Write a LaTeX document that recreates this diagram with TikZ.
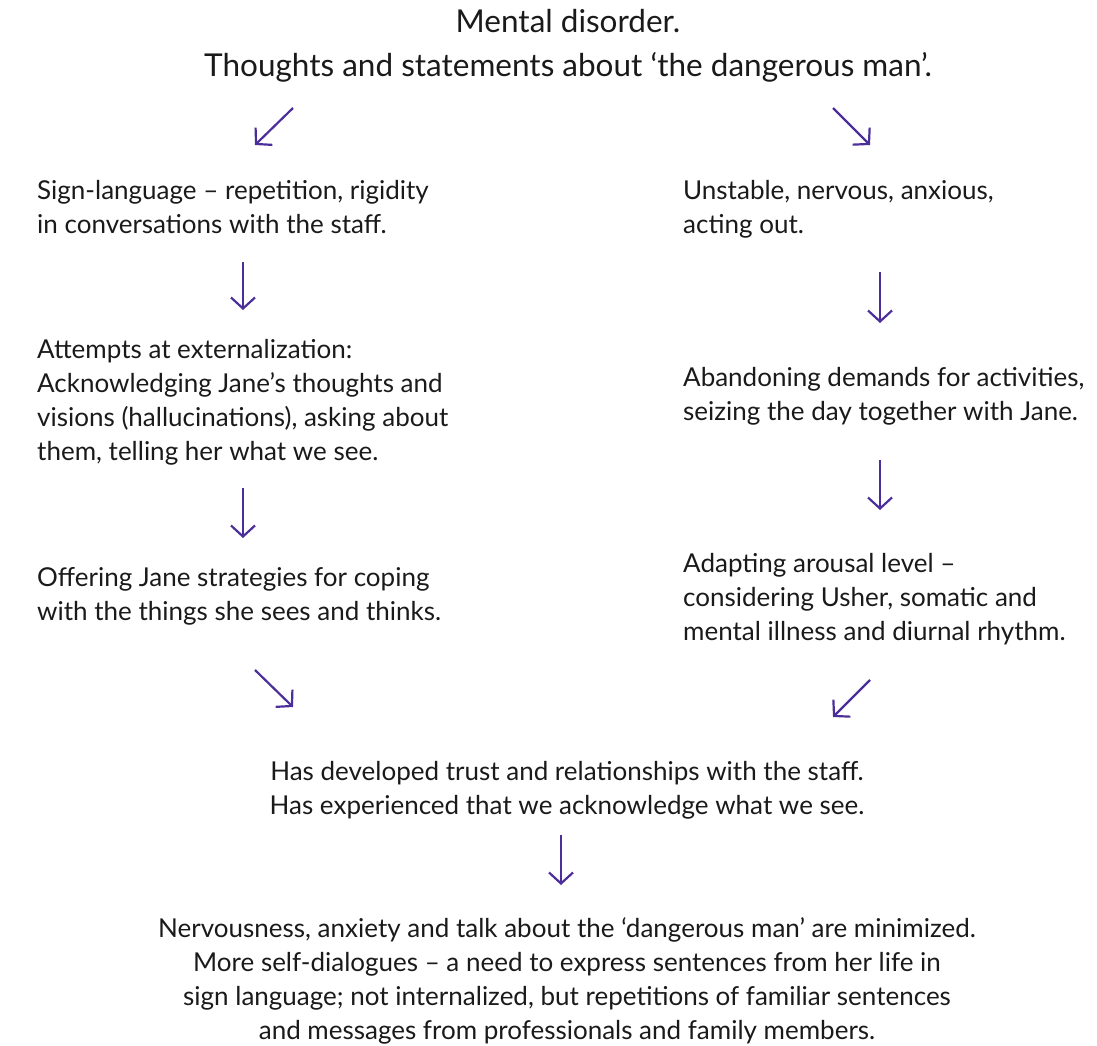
\documentclass[tikz,border=0pt]{standalone}
\usepackage{fontspec}
\setmainfont{Lato}
\usetikzlibrary{arrows.meta}
\definecolor{arrowpurple}{HTML}{4B2E9A}
\definecolor{textgray}{HTML}{1A1A1A}
\tikzset{
  txt/.style={inner sep=0pt, text=textgray, font=\fontsize{26}{34}\selectfont},
  lefttxt/.style={txt, align=left, anchor=base west},
  midtxt/.style={txt, align=center, anchor=base},
  flow/.style={draw=arrowpurple, line width=2.2pt, -{Straight Barb[length=11pt,width=24pt,line width=2.2pt]}}
}
\begin{document}
\begin{tikzpicture}[x=1pt,y=-1pt]
\useasboundingbox (0,0) rectangle (1097,1046);
\node[txt, align=center, anchor=base, font=\fontsize{31.5}{44}\selectfont] (title) at (568,77) {Mental disorder.\\Thoughts and statements about ‘the dangerous man’.};
\node[lefttxt] (l1) at (37,233) {Sign-language – repetition, rigidity\\in conversations with the staff.};
\node[lefttxt] (l2) at (37,460) {Attempts at externalization:\\Acknowledging Jane’s thoughts and\\visions (hallucinations), asking about\\them, telling her what we see.};
\node[lefttxt] (l3) at (37,620) {Offering Jane strategies for coping\\with the things she sees and thinks.};
\node[lefttxt] (r1) at (683,233) {Unstable, nervous, anxious,\\acting out.};
\node[lefttxt] (r2) at (683,420) {Abandoning demands for activities,\\seizing the day together with Jane.};
\node[lefttxt] (r3) at (683,640) {Adapting arousal level –\\considering Usher, somatic and\\mental illness and diurnal rhythm.};
\node[midtxt] (c1) at (567,814) {Has developed trust and relationships with the staff.\\Has experienced that we acknowledge what we see.};
\node[midtxt] (c2) at (567,1039) {Nervousness, anxiety and talk about the ‘dangerous man’ are minimized.\\More self-dialogues – a need to express sentences from her life in\\sign language; not internalized, but repetitions of familiar sentences\\and messages from professionals and family members.};
\coordinate (a1s) at (293,108); \coordinate (a1e) at (255,145);
\coordinate (a2s) at (833,108); \coordinate (a2e) at (870,145);
\coordinate (a3s) at (243,262); \coordinate (a3e) at (243,310);
\coordinate (a4s) at (243,488); \coordinate (a4e) at (243,538);
\coordinate (a5s) at (255,670); \coordinate (a5e) at (293,707);
\coordinate (a6s) at (880,272); \coordinate (a6e) at (880,323);
\coordinate (a7s) at (880,460); \coordinate (a7e) at (880,510);
\coordinate (a8s) at (870,680); \coordinate (a8e) at (833,717);
\coordinate (a9s) at (561,835); \coordinate (a9e) at (561,885);
\foreach \i in {1,...,9} {\draw[flow] (a\i s) -- (a\i e);}
\end{tikzpicture}
\end{document}
